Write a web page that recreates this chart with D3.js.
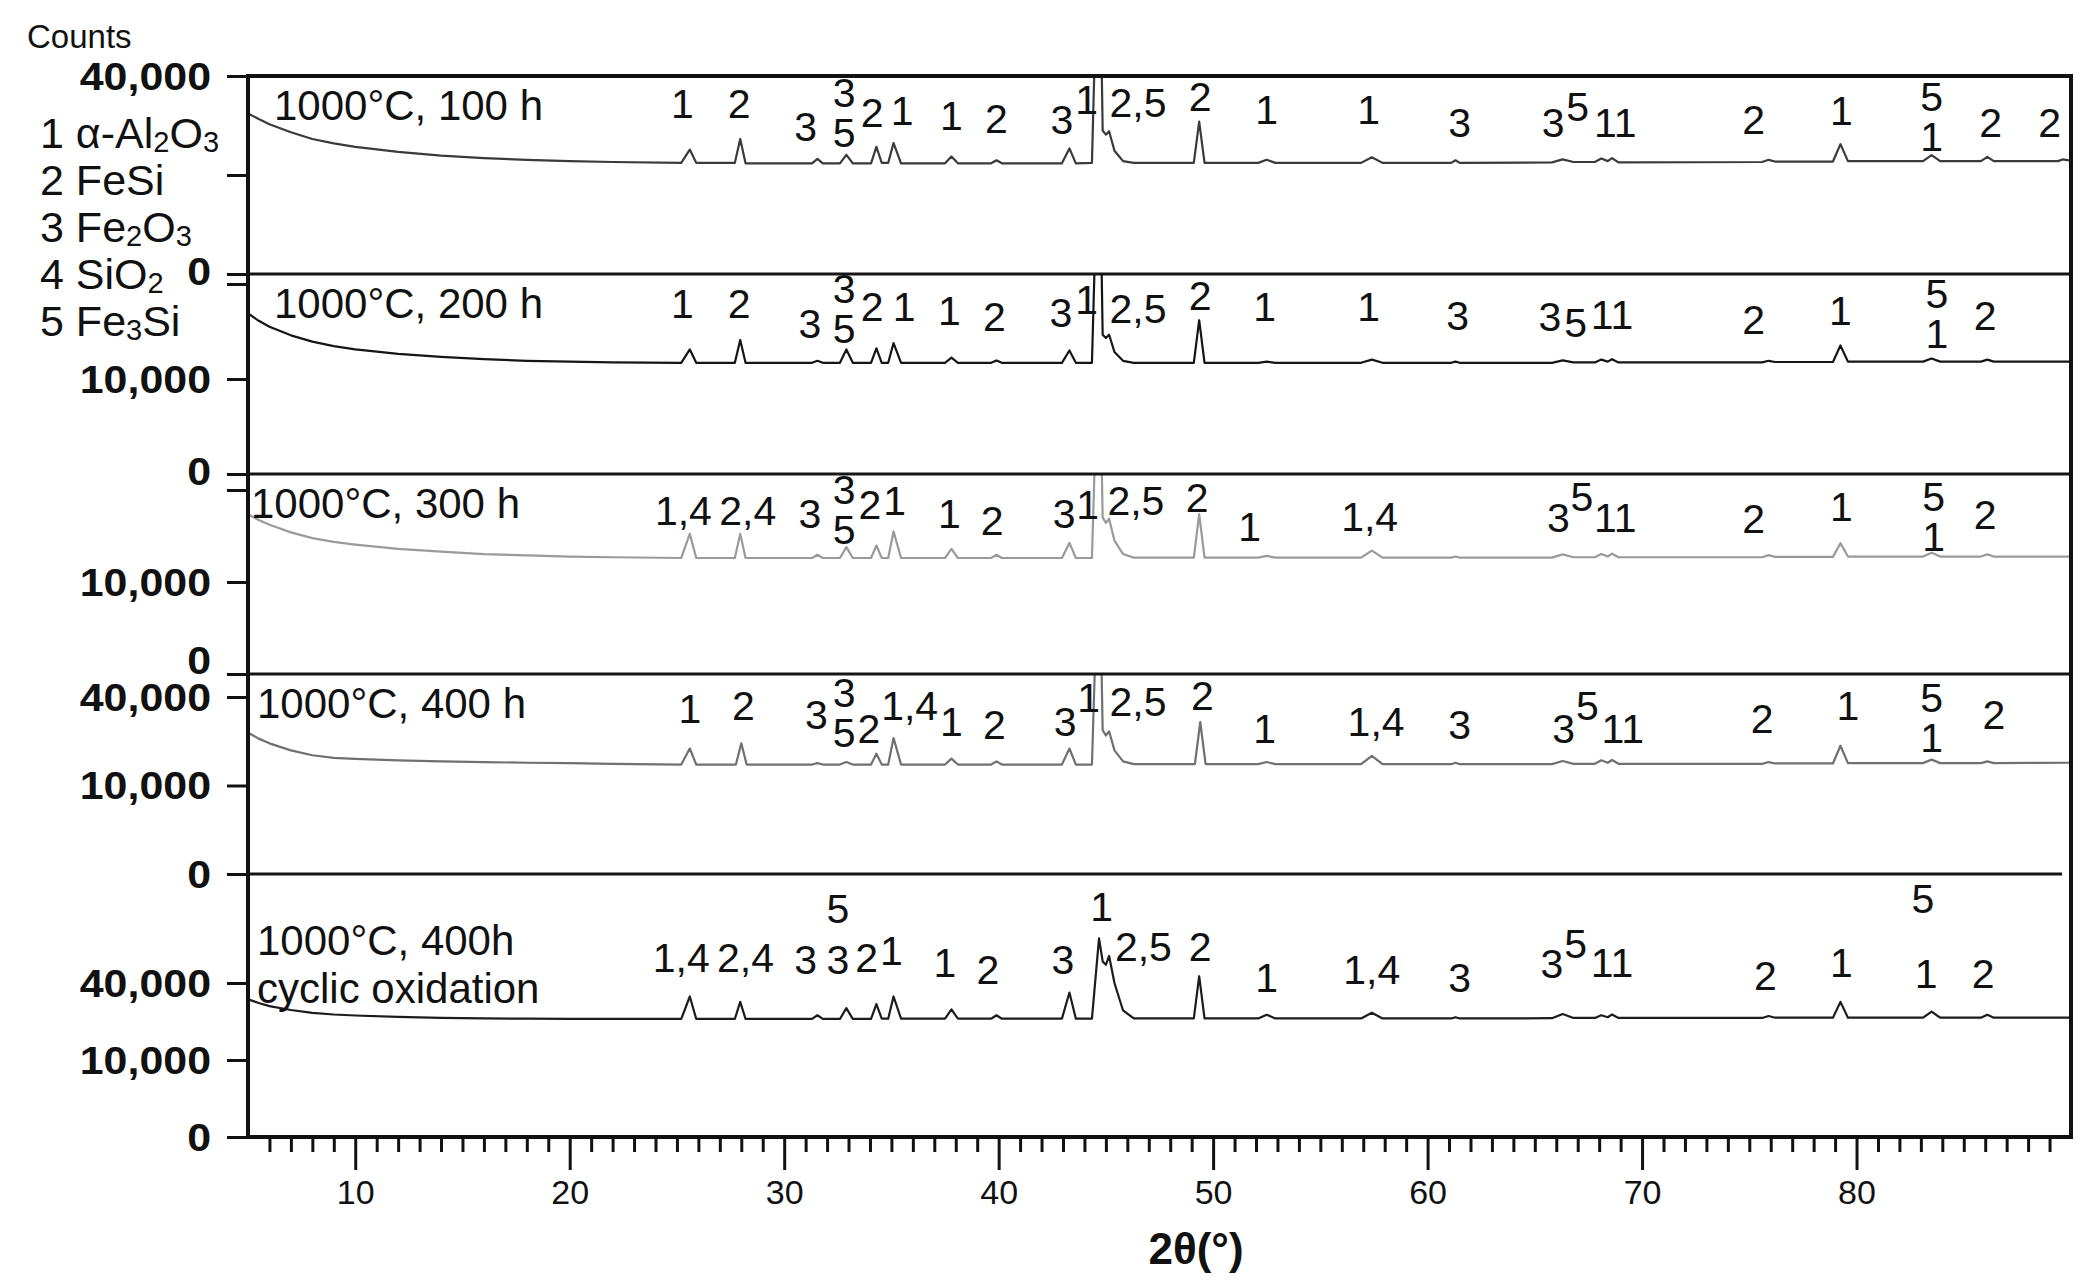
<!DOCTYPE html>
<html>
<head>
<meta charset="utf-8">
<style>
body { margin: 0; background: #fff; }
svg text { font-family: Arial, "Liberation Sans", sans-serif; fill: #111; }
</style>
</head>
<body>
<svg width="2092" height="1283"></svg>
<script src="https://cdn.jsdelivr.net/npm/d3@7"></script>
<script>
// ---- data ----
var titles = [["1000°C, 100 h"], ["1000°C, 200 h"], ["1000°C, 300 h"], ["1000°C, 400 h"], ["1000°C, 400h", "cyclic oxidation"]];
var xTicks = [10, 20, 30, 40, 50, 60, 70, 80];
var yTicks = [0, 10000, 40000];
// which y labels are printed in each panel
var yShown = [[0, 40000], [0, 10000], [0, 10000], [0, 10000, 40000], [0, 10000, 40000]];

// phase legend, [text, subscript?]
var phases = [
  [["1 α-Al", 0], ["2", 1], ["O", 0], ["3", 1]],
  [["2 FeSi", 0]],
  [["3 Fe", 0], ["2", 1], ["O", 0], ["3", 1]],
  [["4 SiO", 0], ["2", 1]],
  [["5 Fe", 0], ["3", 1], ["Si", 0]]
];

// patterns: [2theta, counts]
var trace100 = [[5,26300],[5.5,24500],[6,22900],[7,20500],[8,18600],[9,17400],[10,16500],[12,15200],[14,14300],[16,13700],[18,13300],[20,13000],[22,12800],[25.2,12600],
  [25.6,15800],[25.9,12600],[27.7,12600],[27.95,18600],[28.2,12500],[31.3,12500],[31.55,13500],[31.8,12500],
  [32.6,12500],[32.9,14500],[33.2,12500],[34.05,12500],[34.3,16500],[34.55,12600],[34.85,12600],[35.1,17500],[35.45,12500],
  [37.5,12500],[37.8,14100],[38.1,12500],[39.65,12500],[39.9,13200],[40.15,12500],[42.95,12500],[43.3,16100],[43.6,12500],
  [44.35,12600],[44.68,150000],[44.85,21000],[45.0,19800],[45.15,20800],[45.4,15500],[45.8,13000],[46.3,12600],
  [49.1,12600],[49.35,23700],[49.6,12600],[52.1,12600],[52.5,13300],[52.9,12600],[56.9,12600],[57.4,13900],[57.9,12600],
  [61.1,12600],[61.3,13200],[61.5,12600],[65.8,12700],[66.3,13400],[66.8,12800],[67.8,12800],[68.1,13600],[68.4,13000],[68.6,13700],[68.9,12700],
  [75.6,12800],[75.9,13300],[76.2,12900],[78.9,12900],[79.25,17200],[79.6,13000],[83.1,13000],[83.5,14400],[83.9,13000],
  [85.8,13000],[86.1,14000],[86.4,13000],[89.4,13000],[89.6,13400],[90,13100]];
var trace200 = [[5,28600],[5.5,26000],[6,24000],[7,21300],[8,19400],[9,18100],[10,17200],[12,16000],[14,15200],[16,14600],[18,14200],[20,14000],[22,13800],[25.2,13700],
  [25.6,17200],[25.9,13700],[27.7,13700],[27.95,19900],[28.2,13700],[31.3,13700],[31.55,14200],[31.8,13700],
  [32.6,13700],[32.9,17200],[33.2,13700],[34.05,13700],[34.3,17500],[34.55,13700],[34.85,13700],[35.1,19000],[35.45,13700],
  [37.5,13700],[37.8,15000],[38.1,13700],[39.65,13700],[39.9,14300],[40.15,13700],[42.95,13700],[43.3,16900],[43.6,13700],
  [44.35,13700],[44.68,150000],[44.85,21500],[45.0,20500],[45.15,21500],[45.4,16500],[45.8,14200],[46.3,13700],
  [49.1,13700],[49.35,26200],[49.6,13700],[52.1,13700],[52.5,14000],[52.9,13700],[56.9,13700],[57.4,14500],[57.9,13700],
  [61.1,13700],[61.3,14000],[61.5,13700],[65.8,13700],[66.3,14300],[66.8,13800],[67.8,13800],[68.1,14500],[68.4,14000],[68.6,14600],[68.9,13800],
  [75.6,13800],[75.9,14200],[76.2,13900],[78.9,13900],[79.25,18300],[79.6,14000],[83.1,14000],[83.5,14800],[83.9,14000],
  [85.8,14000],[86.1,14500],[86.4,14000],[90,14000]];
var trace300 = [[5,30200],[5.5,28000],[6,26300],[7,23700],[8,21800],[9,20600],[10,19800],[12,18500],[14,17700],[16,17000],[18,16600],[20,16300],[22,16100],[25.2,15900],
  [25.6,23200],[25.9,15900],[27.7,15900],[27.95,23200],[28.2,15900],[31.3,15900],[31.55,16800],[31.8,15900],
  [32.6,15900],[32.9,19000],[33.2,15900],[34.05,15900],[34.3,19500],[34.55,15900],[34.85,15900],[35.1,24000],[35.45,15900],
  [37.5,15900],[37.8,18500],[38.1,15900],[39.65,15900],[39.9,16800],[40.15,15900],[42.95,15900],[43.3,20300],[43.6,15900],
  [44.35,15900],[44.68,150000],[44.85,29000],[45.0,27000],[45.15,28500],[45.4,21000],[45.8,17000],[46.3,16000],
  [49.1,16000],[49.35,30200],[49.6,16000],[52.1,16000],[52.5,16500],[52.9,16000],[56.9,16000],[57.4,18000],[57.9,16000],
  [61.1,16000],[61.3,16300],[61.5,16000],[65.8,16000],[66.3,16900],[66.8,16100],[67.8,16100],[68.1,17000],[68.4,16300],[68.6,17100],[68.9,16100],
  [75.6,16100],[75.9,16700],[76.2,16200],[78.9,16200],[79.25,20200],[79.6,16300],[83.1,16300],[83.5,17400],[83.9,16300],
  [85.8,16300],[86.1,16900],[86.4,16300],[90,16300]];
var trace400 = [[5,25500],[5.5,23400],[6,21800],[7,19500],[8,18000],[9,17200],[10,16900],[12,16500],[14,16200],[16,16000],[18,15800],[20,15700],[22,15500],[25.2,15300],
  [25.6,20100],[25.9,15300],[27.75,15300],[28.0,21800],[28.25,15300],[31.3,15300],[31.55,15700],[31.8,15300],
  [32.6,15300],[32.9,16000],[33.2,15300],[34.05,15300],[34.3,18500],[34.55,15300],[34.85,15300],[35.1,23600],[35.45,15300],
  [37.5,15300],[37.8,17000],[38.1,15300],[39.65,15300],[39.9,16200],[40.15,15300],[42.95,15300],[43.3,20100],[43.6,15300],
  [44.35,15300],[44.68,150000],[44.85,26500],[45.0,24500],[45.15,26000],[45.4,19500],[45.8,16200],[46.3,15400],
  [49.15,15400],[49.4,29500],[49.65,15400],[52.1,15400],[52.5,16000],[52.9,15400],[56.9,15400],[57.4,17800],[57.9,15400],
  [61.1,15400],[61.3,15800],[61.5,15400],[65.8,15400],[66.3,16300],[66.8,15500],[67.8,15500],[68.1,16500],[68.4,15800],[68.6,16600],[68.9,15500],
  [75.6,15500],[75.9,16000],[76.2,15600],[78.9,15600],[79.25,21000],[79.6,15700],[83.1,15700],[83.5,16700],[83.9,15700],
  [85.8,15700],[86.1,16200],[86.4,15700],[90,15800]];
var traceCyclic = [[5,32000],[5.5,30300],[6,28900],[7,27200],[8,26000],[9,25300],[10,24900],[12,24300],[14,23900],[16,23700],[18,23600],[20,23500],[22,23500],[25.2,23500],
  [25.6,33300],[25.9,23500],[27.7,23500],[27.95,30800],[28.2,23500],[31.3,23500],[31.55,25000],[31.8,23500],
  [32.6,23500],[32.9,28000],[33.2,23500],[34.05,23500],[34.3,29800],[34.55,23600],[34.85,23600],[35.1,33300],[35.45,23600],
  [37.5,23600],[37.8,27500],[38.1,23600],[39.65,23600],[39.9,25000],[40.15,23600],[42.95,23600],[43.3,35200],[43.6,23600],
  [44.35,23600],[44.68,66500],[44.85,52000],[45.0,50000],[45.15,55300],[45.4,40000],[45.8,27000],[46.3,23700],
  [49.1,23700],[49.35,43600],[49.6,23700],[52.1,23700],[52.5,25200],[52.9,23700],[56.9,23700],[57.4,26000],[57.9,23700],
  [61.1,23700],[61.3,24200],[61.5,23700],[65.8,23800],[66.3,25500],[66.8,23900],[67.8,23900],[68.1,25000],[68.4,24200],[68.6,25300],[68.9,23900],
  [75.6,23900],[75.9,24700],[76.2,24000],[78.9,24000],[79.25,30800],[79.6,24000],[83.1,24000],[83.5,26500],[83.9,24000],
  [85.8,24000],[86.1,25200],[86.4,24000],[90,24000]];

// peak labels: [2theta, counts of the (first) line, text]; "\n" stacks two indices
var peaks100 = [[25.25,29500,"1"],[27.9,29500,"2"],[31.0,22100,"3"],[32.8,33300,"3\n5"],[34.1,26300,"2"],[35.5,27200,"1"],
  [37.8,25400,"1"],[39.9,24600,"2"],[42.95,24200,"3"],[44.1,30900,"1"],[46.5,29900,"2,5"],[49.4,31800,"2"],[52.5,27600,"1"],
  [57.25,27600,"1"],[61.5,23300,"3"],[65.85,23300,"3"],[67.0,28500,"5"],[68.75,23300,"11"],[75.2,24200,"2"],[79.3,27200,"1"],
  [83.5,31800,"5\n1"],[86.25,23300,"2"],[89.0,23300,"2"]];
var peaks200 = [[25.25,32000,"1"],[27.9,32000,"2"],[31.2,24900,"3"],[32.8,37800,"3\n5"],[34.1,31000,"2"],[35.6,31000,"1"],
  [37.7,29500,"1"],[39.8,27200,"2"],[42.9,28600,"3"],[44.1,33500,"1"],[46.5,30000,"2,5"],[49.4,35100,"2"],[52.4,31000,"1"],
  [57.25,31000,"1"],[61.4,27600,"3"],[65.7,27200,"3"],[66.9,25300,"5"],[68.6,28100,"11"],[75.2,26200,"2"],[79.25,29500,"1"],
  [83.75,36100,"5\n1"],[86.0,27600,"2"]];
var peaks300 = [[25.3,31300,"1,4"],[28.3,31300,"2,4"],[31.2,30200,"3"],[32.8,40000,"3\n5"],[34.0,33900,"2"],[35.15,35500,"1"],
  [37.7,30200,"1"],[39.7,27800,"2"],[43.05,30200,"3"],[44.15,33900,"1"],[46.4,35500,"2,5"],[49.25,36600,"2"],[51.7,25400,"1"],
  [57.3,29200,"1,4"],[66.1,28800,"3"],[67.2,37200,"5"],[68.75,28800,"11"],[75.2,28300,"2"],[79.3,32800,"1"],
  [83.6,37200,"5\n1"],[86.0,29700,"2"]];
var peaks400 = [[25.6,34800,"1"],[28.1,35900,"2"],[31.5,32100,"3"],[32.8,41800,"3\n5"],[33.95,27000,"2"],[35.85,35900,"1,4"],
  [37.8,29500,"1"],[39.8,28400,"2"],[43.1,29500,"3"],[44.2,39400,"1"],[46.5,37600,"2,5"],[49.5,40600,"2"],[52.4,27000,"1"],
  [57.6,29500,"1,4"],[61.5,28400,"3"],[66.35,27000,"3"],[67.45,35900,"5"],[69.1,27000,"11"],[75.6,30500,"2"],[79.6,35900,"1"],
  [83.5,39400,"5\n1"],[86.4,32100,"2"]];
var peaksCyclic = [[25.2,54300,"1,4"],[28.2,54300,"2,4"],[31.0,52700,"3"],[32.5,52700,"3"],[32.5,87400,"5"],[33.85,54300,"2"],[35.0,58400,"1"],
  [37.5,51100,"1"],[39.5,47300,"2"],[43.0,52700,"3"],[44.8,89500,"1"],[46.75,61000,"2,5"],[49.4,61000,"2"],[52.5,42800,"1"],
  [57.4,47300,"1,4"],[61.5,42800,"3"],[65.8,50300,"3"],[66.9,62700,"5"],[68.6,51100,"11"],[75.75,43600,"2"],[79.3,51100,"1"],
  [83.1,95800,"5"],[83.25,45000,"1"],[85.9,45000,"2"]];

var traces = [trace100, trace200, trace300, trace400, traceCyclic];
var peakLabels = [peaks100, peaks200, peaks300, peaks400, peaksCyclic];

// ---- layout ----
var svg = d3.select("svg");
var SY = 1.13;  // the bold axis numbers are a little wide in the original
var left = 248, right = 2071, top0 = 76, bottom = 1137;
var panelTop = [76, 274, 474, 674, 874];
var panelZero = [274, 474, 674, 874, 1137];
var panel40k = [76, 284, 490, 697, 983];
var colors = ["#3a3a3a", "#151515", "#9a9a9a", "#707070", "#1c1c1c"];

var x = d3.scaleLinear().domain([5, 90]).range([left, right]);
var fmt = d3.format(",");

function txt(g, px, py, s, size, anchor, weight) {
  return g.append("text")
    .attr("x", px).attr("y", py)
    .attr("font-size", size)
    .attr("font-weight", weight || "normal")
    .attr("text-anchor", anchor || "start")
    .attr("dominant-baseline", "central")
    .text(s);
}

var defs = svg.append("defs");

traces.forEach(function(tr, i) {
  var y = d3.scaleSqrt().domain([0, 40000]).range([panelZero[i], panel40k[i]]);
  var g = svg.append("g");

  defs.append("clipPath").attr("id", "clip" + i)
    .append("rect").attr("x", left).attr("y", panelTop[i])
    .attr("width", right - left).attr("height", panelZero[i] - panelTop[i]);

  var line = d3.line().x(function(d) { return x(d[0]); }).y(function(d) { return y(d[1]); });
  g.append("path")
    .datum(tr)
    .attr("clip-path", "url(#clip" + i + ")")
    .attr("fill", "none")
    .attr("stroke", colors[i])
    .attr("stroke-width", 2.2)
    .attr("stroke-linejoin", "round")
    .attr("d", line);

  // peak labels (stacked ones as one text, 40px line step)
  peakLabels[i].forEach(function(p) {
    var t = g.append("text").attr("font-size", 41).attr("text-anchor", "middle");
    p[2].split("\n").forEach(function(s, k) {
      t.append("tspan").attr("x", x(p[0])).attr("y", y(p[1]) + k * 40)
        .attr("dominant-baseline", "central").text(s);
    });
  });

  // panel title
  var tx = i == 2 ? left + 3 : (i == 0 || i == 1 ? left + 26 : left + 9);
  titles[i].forEach(function(t, k) {
    txt(g, tx, panelTop[i] + 29 + (i == 4 ? 37 : 0) + k * 48, t, 42);
  });

  // y axis
  var ax = svg.append("g").attr("transform", "translate(" + left + ",0)")
    .call(d3.axisLeft(y).tickValues(yTicks).tickSize(21)
      .tickFormat(function(d) { return yShown[i].indexOf(d) >= 0 ? fmt(d) : ""; }));
  ax.select(".domain").remove();
  ax.selectAll("line").attr("stroke", "#111").attr("stroke-width", 3);
  ax.selectAll("text")
    .attr("font-size", 38).attr("font-weight", "bold")
    .attr("font-family", "Arial, 'Liberation Sans', sans-serif")
    .attr("fill", "#111")
    .attr("x", -37 / SY)
    .attr("dy", function(d) { return d == 0 && i < 3 ? (i == 2 ? "-0.02em" : "0.28em") : "0.35em"; })
    .attr("transform", "scale(" + SY + ",1)");
});

// frame and dividers
svg.append("rect").attr("x", left).attr("y", top0).attr("width", right - left).attr("height", bottom - top0)
  .attr("fill", "none").attr("stroke", "#111").attr("stroke-width", 4);
panelTop.slice(1).forEach(function(py, k) {
  svg.append("line").attr("x1", left).attr("x2", k == 3 ? right - 9 : right)
    .attr("y1", py).attr("y2", py).attr("stroke", "#151515").attr("stroke-width", 3);
});

// x axis: minor and major ticks
var minor = d3.range(6, 90).filter(function(v) { return xTicks.indexOf(v) < 0; });
var xMinor = svg.append("g").attr("transform", "translate(0," + bottom + ")")
  .call(d3.axisBottom(x).tickValues(minor).tickSize(15).tickFormat(""));
xMinor.select(".domain").remove();
xMinor.selectAll("line").attr("stroke", "#111").attr("stroke-width", 3);
var xMajor = svg.append("g").attr("transform", "translate(0," + bottom + ")")
  .call(d3.axisBottom(x).tickValues(xTicks).tickSize(33).tickPadding(10));
xMajor.select(".domain").remove();
xMajor.selectAll("line").attr("stroke", "#111").attr("stroke-width", 3);
xMajor.selectAll("text").attr("font-size", 34).attr("fill", "#111")
  .attr("font-family", "Arial, 'Liberation Sans', sans-serif");

txt(svg, 1196, 1248, "2θ(°)", 44, "middle", "bold");
txt(svg, 27, 36, "Counts", 33);

// phase legend, one text block
var leg = svg.append("text").attr("font-size", 43);
phases.forEach(function(ph, k) {
  var shifted = false;
  ph.forEach(function(part, j) {
    var sp = leg.append("tspan").attr("dominant-baseline", "central").text(part[0]);
    if (j == 0) sp.attr("x", 40).attr("y", 133 + k * 47);
    if (part[1]) { sp.attr("font-size", 29).attr("dy", 9); shifted = true; }
    else if (shifted) { sp.attr("dy", -9); shifted = false; }
  });
});
</script>
</body>
</html>
